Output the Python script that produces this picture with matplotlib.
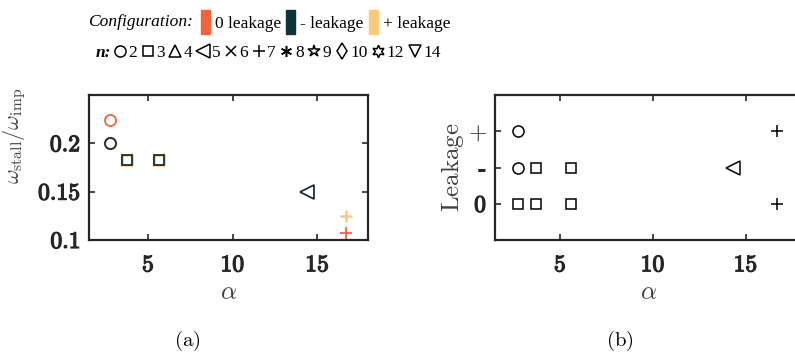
import numpy as np
import matplotlib
matplotlib.use('Agg')
from matplotlib import pyplot as plt
from matplotlib import patheffects as pe
from matplotlib.lines import Line2D
from matplotlib.patches import Patch

plt.rcParams['mathtext.fontset'] = 'cm'
plt.rcParams['font.family'] = ['Liberation Serif', 'DejaVu Serif']

# configuration colours
c_zero = '#F4643C'
c_minus = '#0E3338'
c_plus = '#FFC97A'
config_names = ['0 leakage', '- leakage', '+ leakage']

# n -> marker
n_list = [2, 3, 4, 5, 6, 7, 8, 9, 10, 12, 14]
n_marker = {2: 'o', 3: 's', 4: '^', 5: '<', 6: 'x', 7: '+', 8: (6, 2, 0),
            9: '*', 10: 'd', 12: (6, 1, 0), 14: 'v'}
n_size = {2: 8, 3: 6.5, 4: 9, 5: 10, 6: 7, 7: 9, 8: 8, 9: 9, 10: 8, 12: 9, 14: 9}

# (a) omega_stall / omega_imp vs alpha
zero_alpha = [2.75, 16.7]
zero_ratio = [0.224, 0.107]
zero_n = [2, 7]
plus_alpha = [2.75, 3.75, 5.65, 16.7]
plus_ratio = [0.200, 0.183, 0.183, 0.125]
plus_n = [2, 3, 3, 7]
minus_alpha = [2.75, 3.75, 5.65, 14.4]
minus_ratio = [0.200, 0.183, 0.183, 0.150]
minus_n = [2, 3, 3, 5]

# (b) leakage level vs alpha (0 -> '0', 1 -> '-', 2 -> '+')
b_alpha = [2.7, 3.7, 5.6, 16.7, 2.7, 3.7, 5.6, 14.3, 2.7, 16.7]
b_level = [0, 0, 0, 0, 1, 1, 1, 1, 2, 2]
b_n = [3, 3, 3, 7, 2, 3, 3, 5, 2, 7]
level_labels = ['0', '-', '+']

ax_col = '#262626'
lab_col = '#404040'
fs = 17
lab_fs = 18
thick = [pe.withStroke(linewidth=0.9, foreground=ax_col)]


def bold(s):
    return r'$\mathbf{' + s + '}$'


def style_axes(ax):
    for sp in ax.spines.values():
        sp.set_linewidth(1.6)
        sp.set_color(ax_col)
    ax.tick_params(direction='in', top=True, right=True, length=4, width=1.2,
                   colors=ax_col, labelsize=fs)
    ax.tick_params(axis='x', pad=11)
    ax.tick_params(axis='y', pad=6)
    ax.set_xlim(1.5, 18)
    ax.set_xticks([5, 10, 15], [bold(str(v)) for v in [5, 10, 15]])
    ax.set_xlabel(r'$\alpha$', fontsize=lab_fs, color=lab_col, labelpad=4)


def thicken(ax):
    for lbl in ax.get_xticklabels() + ax.get_yticklabels():
        if lbl.get_text() not in ['$+$', '-']:
            lbl.set_path_effects(thick)


def scatter_series(ax, xs, ys, ns, color, mew=1.3):
    for x, y, n in zip(xs, ys, ns):
        ax.plot(x, y, ls='none', marker=n_marker[n], ms=n_size[n],
                mfc='none', mec=color, mew=mew)


fig = plt.figure(figsize=(7.95, 3.61), dpi=100)

ax1 = fig.add_axes([0.112, 0.335, 0.351, 0.402])
scatter_series(ax1, zero_alpha, zero_ratio, zero_n, c_zero)
scatter_series(ax1, plus_alpha, plus_ratio, plus_n, c_plus, mew=1.8)
scatter_series(ax1, minus_alpha, minus_ratio, minus_n, c_minus)
style_axes(ax1)
ax1.set_ylim(0.1, 0.25)
ax1.set_yticks([0.1, 0.15, 0.2], [bold(v) for v in ['0.1', '0.15', '0.2']])
ax1.set_ylabel(r'$\omega_{\mathrm{stall}}/\omega_{\mathrm{imp}}$',
               fontsize=16, color=lab_col, labelpad=3)
ax1.yaxis.set_label_coords(-0.22, 0.72)
thicken(ax1)

ax2 = fig.add_axes([0.623, 0.335, 0.385, 0.402])
scatter_series(ax2, b_alpha, b_level, b_n, 'k', mew=1.1)
style_axes(ax2)
ax2.set_ylim(-1, 3)
ax2.set_yticks([0, 1, 2], [bold('0'), '-', '$+$'])
for lbl in ax2.get_yticklabels():
    if lbl.get_text() == '-':
        lbl.set_fontfamily('DejaVu Serif')
        lbl.set_fontweight('bold')
ax2.set_ylabel(r'$\mathrm{Leakage}$', fontsize=lab_fs, color=lab_col, labelpad=1)
thicken(ax2)

fig.text(0.235, 0.055, r'$\mathrm{(a)}$', ha='center', va='center', fontsize=15)
fig.text(0.780, 0.055, r'$\mathrm{(b)}$', ha='center', va='center', fontsize=15)

# legend, row 1: configuration colours
lfs = 12.5
fig.text(0.243, 0.939, 'Configuration:', style='italic', fontsize=lfs,
         ha='right', va='center')
cfg_handles = [Patch(color=c) for c in [c_zero, c_minus, c_plus]]
fig.legend(cfg_handles, config_names, loc='center left', bbox_to_anchor=(0.253, 0.939),
           ncol=3, frameon=False, fontsize=lfs, handlelength=0.5, handleheight=1.7,
           handletextpad=0.3, columnspacing=0.3, borderpad=0, borderaxespad=0)

# legend, row 2: n markers
fig.text(0.140, 0.853, 'n:', style='italic', fontweight='bold', fontsize=lfs,
         ha='right', va='center')
n_handles = [Line2D([], [], ls='none', marker=n_marker[n], ms=n_size[n],
                    mfc='none', mec='k', mew=1.1) for n in n_list]
fig.legend(n_handles, [str(n) for n in n_list], loc='center left',
           bbox_to_anchor=(0.143, 0.853), ncol=len(n_list), frameon=False,
           fontsize=lfs, handlelength=0.7, handletextpad=0.15, columnspacing=0.25,
           borderpad=0, borderaxespad=0)

fig.savefig('out.png', dpi=100)
